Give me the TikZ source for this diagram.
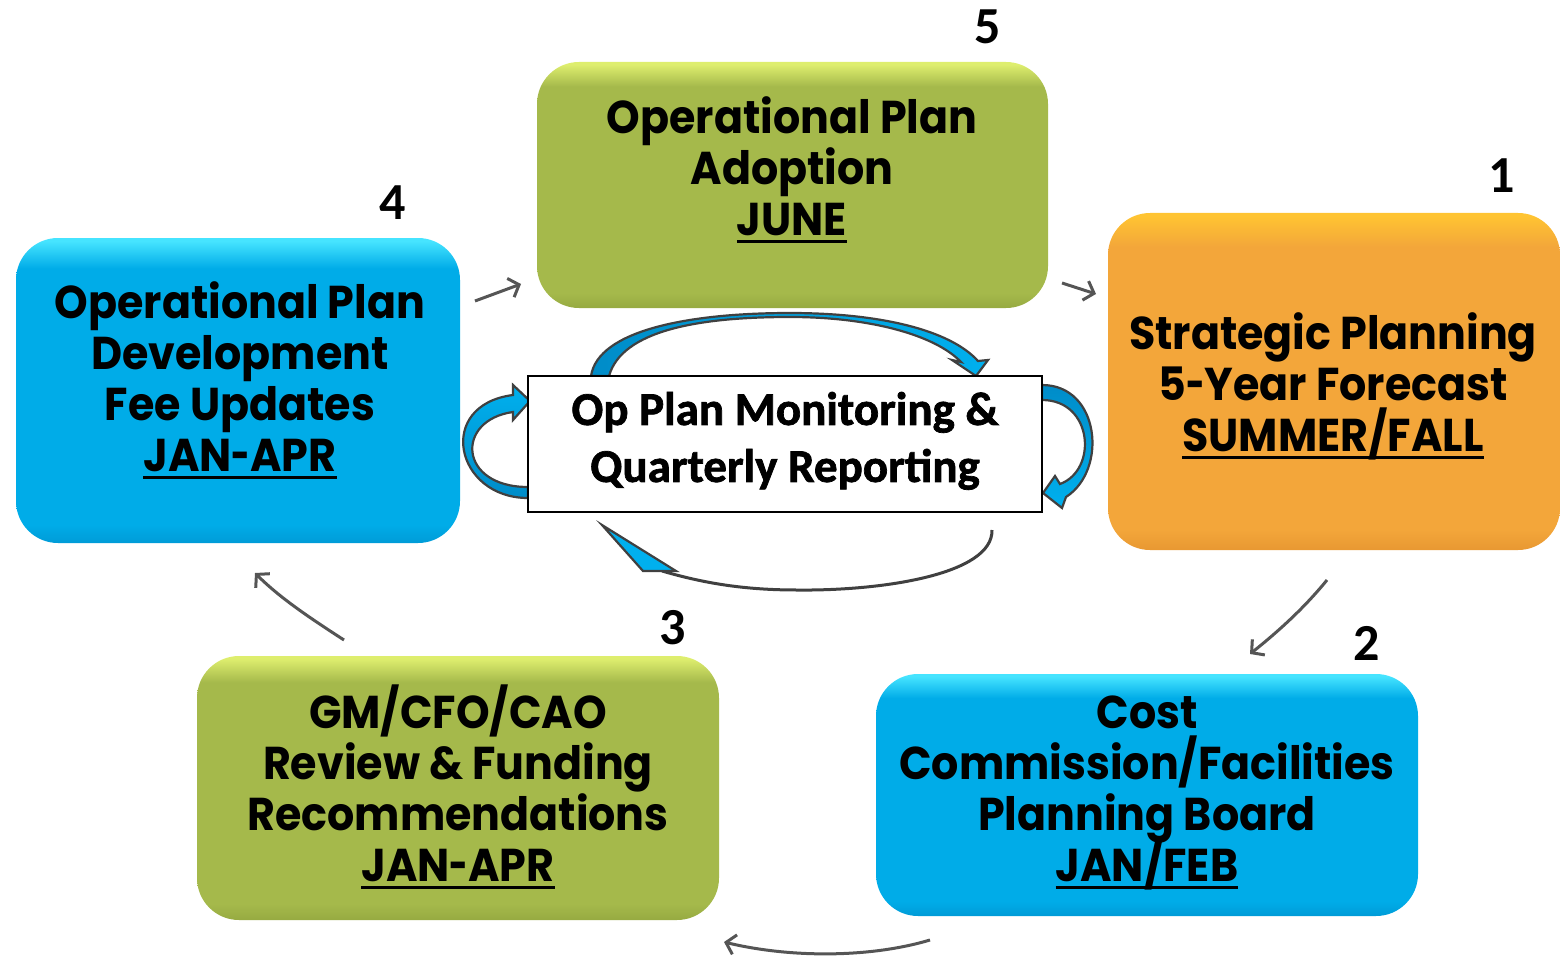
\documentclass[tikz,border=0pt]{standalone}
\usepackage{fontspec}
\newfontfamily\boxfont{Poppins}[FakeStretch=0.93]
\newfontfamily\calfont{Carlito}[Extension=.ttf, UprightFont=*-Regular, BoldFont=*-Bold]
\newfontfamily\calheavy{Carlito}[Extension=.ttf, UprightFont=*-Bold, FakeBold=1.5]
\usetikzlibrary{arrows.meta}
\definecolor{bmain}{RGB}{0,172,232}
\definecolor{btop}{RGB}{70,228,255}
\definecolor{bdark}{RGB}{0,155,215}
\definecolor{gmain}{RGB}{165,185,75}
\definecolor{gtop}{RGB}{222,238,110}
\definecolor{gdark}{RGB}{150,170,65}
\definecolor{omain}{RGB}{243,166,58}
\definecolor{otop}{RGB}{255,196,50}
\definecolor{odark}{RGB}{232,152,50}
\definecolor{arrgray}{RGB}{85,85,85}
\definecolor{outl}{RGB}{64,64,64}
\definecolor{cblue}{RGB}{0,176,238}
\definecolor{cbluedark}{RGB}{0,140,200}
\pgfdeclareverticalshading{blueshade}{100bp}{color(0bp)=(bdark); color(25bp)=(bdark); color(28bp)=(bmain); color(70bp)=(bmain); color(74.5bp)=(btop); color(100bp)=(btop)}
\pgfdeclareverticalshading{greenshade}{100bp}{color(0bp)=(gdark); color(25bp)=(gdark); color(28bp)=(gmain); color(70bp)=(gmain); color(74.5bp)=(gtop); color(100bp)=(gtop)}
\pgfdeclareverticalshading{orangeshade}{100bp}{color(0bp)=(odark); color(25bp)=(odark); color(28bp)=(omain); color(70bp)=(omain); color(74.5bp)=(otop); color(100bp)=(otop)}
\newcommand\bs{\rule[-0.15em]{0pt}{0.85em}}
\newcommand\cs{\rule[-0.3em]{0pt}{0.95em}}
\newcommand\bline[1]{\bs\smash{#1}}
\newcommand\hy{\scalebox{0.75}[1]{-}}
\newcommand\ulin[1]{\setbox0\hbox{#1}\rlap{\rule[-7pt]{\wd0}{3pt}}\box0}
\tikzset{
  box/.style={rounded corners=42pt, inner sep=0pt},
  boxtext/.style={align=center, inner sep=0pt, font=\boxfont\bfseries\fontsize{46}{51}\selectfont},
  centerbox/.style={draw=black, line width=2pt, fill=white, align=center, inner sep=0pt, font=\calheavy\fontsize{47}{57}\selectfont},
  numstyle/.style={inner sep=0pt, font=\calfont\bfseries\fontsize{52}{52}\selectfont},
  garrow/.style={draw=arrgray, line width=3pt, -{Straight Barb[length=9pt,width=20pt]}},
  barrow/.style={draw=outl, line width=2.2pt, line join=miter}
}
\begin{document}
\begin{tikzpicture}[x=1pt,y=-1pt]
\useasboundingbox (0,0) rectangle (1560,960);
% boxes
\node[box, shading=blueshade, minimum width=444pt, minimum height=305pt] (b4) at (238,390.5) {};
\node[box, shading=greenshade, minimum width=511pt, minimum height=246pt] (b5) at (792.5,185) {};
\node[box, shading=orangeshade, minimum width=452pt, minimum height=337pt] (b1) at (1334,381.5) {};
\node[box, shading=blueshade, minimum width=542pt, minimum height=242pt] (b2) at (1147,795) {};
\node[box, shading=greenshade, minimum width=522pt, minimum height=264pt] (b3) at (458,788) {};
% box texts
\node[boxtext] (t4) at (240,382.5) {\bline{Operational Plan}\\\bline{Development}\\\bline{Fee Updates}\\\bline{\ulin{JAN\hy APR}}};
\node[boxtext] (t5) at (792,172) {\bline{Operational Plan}\\\bline{Adoption}\\\bline{\ulin{JUNE}}};
\node[boxtext] (t1) at (1333,388) {\bline{Strategic Planning}\\\bline{5\hy Year Forecast}\\\bline{\ulin{SUMMER/FALL}}};
\node[boxtext] (t2) at (1147,792.5) {\bline{Cost}\\\bline{Commission/Facilities}\\\bline{Planning Board}\\\bline{\ulin{JAN/FEB}}};
\node[boxtext] (t3) at (458,792.5) {\bline{GM/CFO/CAO}\\\bline{Review \& Funding}\\\bline{Recommendations}\\\bline{\ulin{JAN\hy APR}}};
% numbers
\node[numstyle] (n5) at (988,27) {5};
\node[numstyle] (n1) at (1502,176) {1};
\node[numstyle] (n4) at (393,203) {4};
\node[numstyle] (n3) at (673,628) {3};
\node[numstyle] (n2) at (1367,643) {2};
% gray cycle arrows
\coordinate (a45s) at (475,301); \coordinate (a45e) at (521,284);
\coordinate (a51s) at (1062,283); \coordinate (a51e) at (1096,294);
\coordinate (a12s) at (1327,580); \coordinate (a12e) at (1250,654);
\coordinate (a23s) at (930,940); \coordinate (a23e) at (724,942);
\coordinate (a34s) at (344,640); \coordinate (a34e) at (255,573);
\draw[garrow] (a45s) -- (a45e);
\draw[garrow] (a51s) -- (a51e);
\draw[garrow] (a12s) .. controls (1305,607) and (1280,630) .. (a12e);
\draw[garrow] (a23s) .. controls (870,958) and (790,958) .. (a23e);
\draw[garrow] (a34s) .. controls (310,618) and (280,598) .. (a34e);
% blue circular arrows around the center box
\draw[barrow, left color=cbluedark, right color=cblue] (591,376) .. controls (598,330) and (690,313) .. (790,313) .. controls (880,313) and (950,330) .. (978,361) -- (988,360) -- (976,376) -- (952,360) -- (961,362) .. controls (935,335) and (870,317) .. (790,317) .. controls (700,317) and (622,330) .. (609,376) -- cycle;
\draw[barrow, top color=cbluedark, bottom color=cblue] (1042,385) .. controls (1100,385) and (1108,470) .. (1066,497) -- (1062,508) -- (1043,493) -- (1055,476) -- (1060,484) .. controls (1098,470) and (1093,400) .. (1042,400) -- cycle;
\draw[barrow, top color=cblue, bottom color=cbluedark] (528,498) .. controls (455,498) and (435,405) .. (513,395) -- (513,385) -- (530,401) -- (513,420) -- (513,412) .. controls (455,420) and (458,487) .. (528,487) -- cycle;
\draw[draw=outl, line width=3pt] (992,530) .. controls (993,575) and (880,591) .. (797,590) .. controls (740,590) and (700,582) .. (662,571);
\draw[barrow, fill=cblue] (602,525) -- (676,571) -- (643,571) -- cycle;
% center box
\node[centerbox, minimum width=514pt, minimum height=136pt] (c) at (785,444) {\cs Op Plan Monitoring \&\\\cs Quarterly Reporting};
\end{tikzpicture}
\end{document}
